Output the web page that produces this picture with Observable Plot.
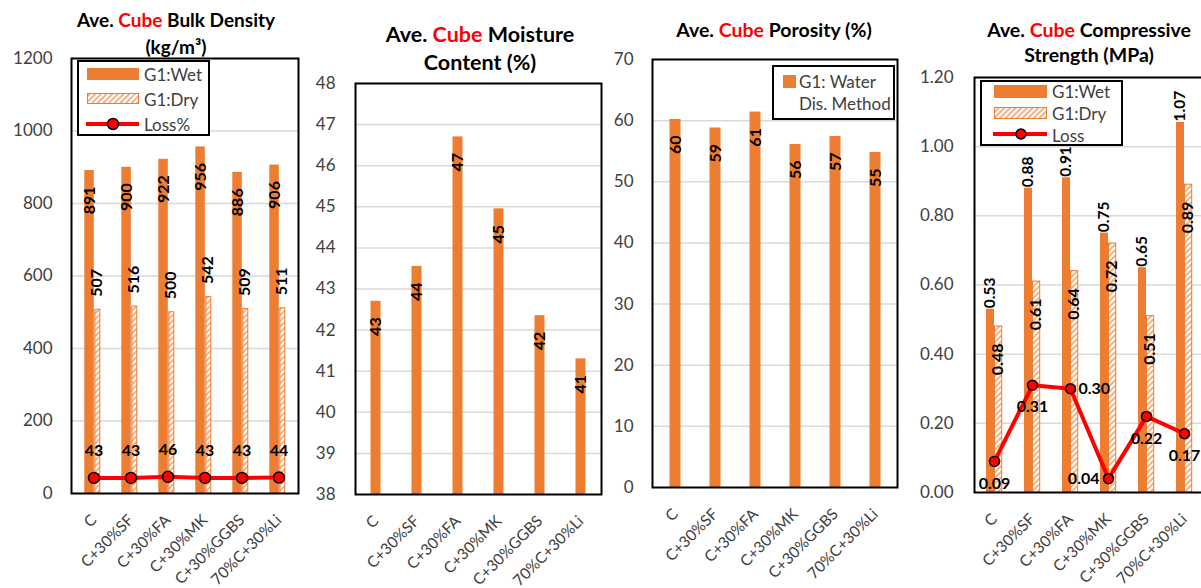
<!DOCTYPE html>
<html>
<head>
<meta charset="utf-8">
<script src="https://cdn.jsdelivr.net/npm/d3@7"></script>
<script src="https://cdn.jsdelivr.net/npm/@observablehq/plot@0.6"></script>
<style>
  body { margin: 0; background: #fff; overflow: hidden; font-family: Lato, "Open Sans", sans-serif; }
  #wrap { position: relative; width: 1201px; height: 588px; overflow: hidden; background: #fff; }
  .panel { position: absolute; top: 0; }
  .panel svg g[aria-label^="y-axis"] text { font-size: 17px; font-family: Lato, sans-serif; fill: #404040; }
  .panel svg g[aria-label^="x-axis"] text { font-size: 15.5px; font-family: Lato, sans-serif; fill: #404040; }
  .title { position: absolute; font-weight: bold; color: #000; text-align: center; white-space: nowrap; transform: translateX(-50%); }
  .title .red { color: #ff0000; }
  .legend { position: absolute; overflow: visible; }
  .legend text { font-family: Lato, sans-serif; font-size: 17px; fill: #404040; dominant-baseline: central; }
</style>
</head>
<body>
<svg width="0" height="0" style="position:absolute">
  <defs>
    <pattern id="hatch" patternUnits="userSpaceOnUse" width="4" height="4" patternTransform="rotate(45)">
      <rect width="4" height="4" fill="#fff"></rect>
      <line x1="1" y1="0" x2="1" y2="4" stroke="#ED7D31" stroke-width="1.2"></line>
    </pattern>
  </defs>
</svg>
<div id="wrap">
  <div class="title" style="left:176px;top:6px;font-size:19px;line-height:27px">Ave. <span class="red">Cube</span> Bulk Density<br>(kg/m³)</div>
  <div class="title" style="left:480px;top:20px;font-size:21.5px;line-height:28px">Ave. <span class="red">Cube</span> Moisture<br>Content (%)</div>
  <div class="title" style="left:774px;top:16px;font-size:19.5px;line-height:28px">Ave. <span class="red">Cube</span> Porosity (%)</div>
  <div class="title" style="left:1089px;top:17px;font-size:19.5px;line-height:25px">Ave. <span class="red">Cube</span> Compressive<br>Strength (MPa)</div>
</div>
<script>
// Mixes tested
const categories = ["C", "C+30%SF", "C+30%FA", "C+30%MK", "C+30%GGBS", "70%C+30%Li"];

// Bulk density (kg/m3)
const densityWet = [891, 900, 922, 956, 886, 906];
const densityDry = [507, 516, 500, 542, 509, 511];
const densityLoss = [43, 43, 46, 43, 43, 44];
const densityTicks = [0, 200, 400, 600, 800, 1000, 1200];

// Moisture content (%)
const moisture = [42.7, 43.55, 46.7, 44.95, 42.35, 41.3];
const moistureTicks = [38, 39, 40, 41, 42, 43, 44, 45, 46, 47, 48];

// Porosity (%), water displacement method
const porosity = [60.2, 58.8, 61.4, 56.1, 57.4, 54.8];
const porosityTicks = [0, 10, 20, 30, 40, 50, 60, 70];

// Compressive strength (MPa)
const strengthWet = [0.53, 0.88, 0.91, 0.75, 0.65, 1.07];
const strengthDry = [0.48, 0.61, 0.64, 0.72, 0.51, 0.89];
const strengthLoss = [0.09, 0.31, 0.30, 0.04, 0.22, 0.17];
const strengthTicks = [0, 0.2, 0.4, 0.6, 0.8, 1.0, 1.2];

const ORANGE = "#ED7D31";
const GRID = "#D9D9D9";
const fmt0 = d3.format(".0f");
const fmt2 = d3.format(".2f");
const svgStyle = "background:transparent;overflow:visible;max-width:none;font-family:Lato,sans-serif;font-size:17px;color:#404040;";
const labelStyle = {fontWeight: "bold", fontSize: 16, fill: "#000", fontFamily: "Lato, sans-serif"};

const wrap = document.getElementById("wrap");
function place(svg, left) {
  const div = document.createElement("div");
  div.className = "panel";
  div.style.left = left + "px";
  div.appendChild(svg);
  wrap.insertBefore(div, wrap.firstChild);
}
const xAxis = {domain: categories, padding: 0, tickRotate: -45, tickSize: 0, tickPadding: 24, label: null};

// Panel 1: bulk density
const densityRows = categories.map((c, i) => ({cat: c, wet: densityWet[i], dry: densityDry[i], loss: densityLoss[i]}));
place(Plot.plot({
  width: 310, height: 588,
  marginLeft: 71, marginRight: 12, marginTop: 58, marginBottom: 95,
  style: svgStyle,
  x: {...xAxis, insetLeft: 2},
  y: {domain: [0, 1200], ticks: densityTicks, tickFormat: fmt0, tickSize: 0, tickPadding: 19, label: null},
  marks: [
    Plot.ruleY(densityTicks.slice(1), {stroke: GRID, strokeWidth: 1.5}),
    Plot.barY(densityRows, {x: "cat", y: "wet", fill: ORANGE, insetLeft: 9.3, insetRight: 18.2}),
    Plot.barY(densityRows, {x: "cat", y: "dry", fill: "url(#hatch)", stroke: ORANGE, strokeWidth: 1, insetLeft: 19.8, insetRight: 12.2}),
    Plot.text(densityRows, {x: "cat", y: "wet", text: d => fmt0(d.wet), rotate: -90, textAnchor: "end", dx: -4.5, dy: 16, ...labelStyle}),
    Plot.text(densityRows, {x: "cat", y: "dry", text: d => fmt0(d.dry), rotate: -90, textAnchor: "start", dx: 2.5, dy: -13, ...labelStyle}),
    Plot.line(densityRows, {x: "cat", y: "loss", stroke: "#FF0000", strokeWidth: 4}),
    Plot.dot(densityRows, {x: "cat", y: "loss", r: 5.5, fill: "#FF0000", stroke: "#000", strokeWidth: 1.5}),
    Plot.text(densityRows, {x: "cat", y: "loss", text: d => fmt0(d.loss), dy: -27, ...labelStyle}),
    Plot.frame({stroke: "#000", strokeWidth: 2})
  ]
}), 0);

// Panel 2: moisture content
const moistureRows = categories.map((c, i) => ({cat: c, v: moisture[i]}));
place(Plot.plot({
  width: 303, height: 588,
  marginLeft: 55, marginRight: 2, marginTop: 83, marginBottom: 94,
  style: svgStyle,
  x: xAxis,
  y: {domain: [38, 48], ticks: moistureTicks, tickSize: 0, tickPadding: 20, label: null},
  marks: [
    Plot.ruleY(moistureTicks.slice(1), {stroke: GRID, strokeWidth: 1.5}),
    Plot.barY(moistureRows, {x: "cat", y1: moistureTicks[0], y2: "v", fill: ORANGE, insetLeft: 15.5, insetRight: 15.5}),
    Plot.text(moistureRows, {x: "cat", y: "v", text: d => fmt0(d.v), rotate: -90, textAnchor: "end", dy: 16, ...labelStyle}),
    Plot.frame({stroke: "#000", strokeWidth: 2})
  ]
}), 300);

// Panel 3: porosity
const porosityRows = categories.map((c, i) => ({cat: c, v: porosity[i]}));
place(Plot.plot({
  width: 300, height: 588,
  marginLeft: 52, marginRight: 3, marginTop: 59, marginBottom: 101,
  style: svgStyle,
  x: xAxis,
  y: {domain: [0, 70], ticks: porosityTicks, tickSize: 0, tickPadding: 19, label: null},
  marks: [
    Plot.ruleY(porosityTicks.slice(1), {stroke: GRID, strokeWidth: 1.5}),
    Plot.barY(porosityRows, {x: "cat", y: "v", fill: ORANGE, insetLeft: 14.5, insetRight: 14.5}),
    Plot.text(porosityRows, {x: "cat", y: "v", text: d => fmt0(d.v), rotate: -90, textAnchor: "end", dy: 16, ...labelStyle}),
    Plot.frame({stroke: "#000", strokeWidth: 2})
  ]
}), 600);

// Panel 4: compressive strength
const strengthRows = categories.map((c, i) => ({cat: c, wet: strengthWet[i], dry: strengthDry[i], loss: strengthLoss[i]}));
const lossRight = new Set(["C+30%FA"]);
const lossLeft = new Set(["C+30%MK"]);
const lossBelow = d => !lossRight.has(d.cat) && !lossLeft.has(d.cat);
place(Plot.plot({
  width: 310, height: 588,
  marginLeft: 74, marginRight: 6, marginTop: 77, marginBottom: 96,
  style: svgStyle,
  x: xAxis,
  y: {domain: [0, 1.2], ticks: strengthTicks, tickFormat: fmt2, tickSize: 0, tickPadding: 21, label: null},
  marks: [
    Plot.ruleY(strengthTicks.slice(1), {stroke: GRID, strokeWidth: 1.5}),
    Plot.barY(strengthRows, {x: "cat", y: "wet", fill: ORANGE, insetLeft: 11, insetRight: 19}),
    Plot.barY(strengthRows, {x: "cat", y: "dry", fill: "url(#hatch)", stroke: ORANGE, strokeWidth: 1, insetLeft: 19.5, insetRight: 11.3}),
    Plot.text(strengthRows, {x: "cat", y: "wet", text: d => fmt2(d.wet), rotate: -90, textAnchor: "start", dx: -4, dy: -1, ...labelStyle, fontSize: 15.5}),
    Plot.text(strengthRows, {x: "cat", y: "dry", text: d => fmt2(d.dry), rotate: -90, textAnchor: "end", dx: 3, dy: 17, ...labelStyle}),
    Plot.line(strengthRows, {x: "cat", y: "loss", stroke: "#FF0000", strokeWidth: 4}),
    Plot.dot(strengthRows, {x: "cat", y: "loss", r: 5, fill: "#FF0000", stroke: "#000", strokeWidth: 1.5}),
    Plot.text(strengthRows, {filter: lossBelow, x: "cat", y: "loss", text: d => fmt2(d.loss), dy: 22, ...labelStyle}),
    Plot.text(strengthRows, {filter: d => lossRight.has(d.cat), x: "cat", y: "loss", text: d => fmt2(d.loss), textAnchor: "start", dx: 8, ...labelStyle}),
    Plot.text(strengthRows, {filter: d => lossLeft.has(d.cat), x: "cat", y: "loss", text: d => fmt2(d.loss), textAnchor: "end", dx: -9, ...labelStyle}),
    Plot.frame({stroke: "#000", strokeWidth: 2})
  ]
}), 900);

// Legends
function legend(left, top, w, h, inner) {
  const ns = "http://www.w3.org/2000/svg";
  const svg = document.createElementNS(ns, "svg");
  svg.setAttribute("class", "legend");
  svg.setAttribute("width", w);
  svg.setAttribute("height", h);
  svg.style.left = left + "px";
  svg.style.top = top + "px";
  svg.innerHTML = `<rect x="1" y="1" width="${w - 2}" height="${h - 2}" fill="#fff" stroke="#000" stroke-width="2"></rect>` + inner;
  wrap.appendChild(svg);
}
legend(77, 60, 133, 76,
  `<rect x="10" y="8" width="52" height="12" fill="${ORANGE}"></rect>
   <text x="67" y="14">G1:Wet</text>
   <rect x="10.5" y="33.5" width="51" height="10" fill="url(#hatch)" stroke="${ORANGE}" stroke-width="1"></rect>
   <text x="67" y="39">G1:Dry</text>
   <line x1="9" x2="62" y1="64" y2="64" stroke="#FF0000" stroke-width="4"></line>
   <circle cx="36" cy="64" r="5.5" fill="#FF0000" stroke="#000" stroke-width="1.5"></circle>
   <text x="67" y="64">Loss%</text>`);
legend(772, 65, 123, 55,
  `<rect x="11" y="10" width="13" height="13" fill="${ORANGE}"></rect>
   <text x="27" y="16">G1: Water</text>
   <text x="27" y="38.5">Dis. Method</text>`);
legend(980, 80, 143, 66,
  `<rect x="14" y="5" width="53" height="13" fill="${ORANGE}"></rect>
   <text x="72" y="11.5">G1:Wet</text>
   <rect x="14.5" y="27.5" width="52" height="11" fill="url(#hatch)" stroke="${ORANGE}" stroke-width="1"></rect>
   <text x="72" y="33">G1:Dry</text>
   <line x1="13" x2="67" y1="54" y2="54" stroke="#FF0000" stroke-width="4"></line>
   <circle cx="41" cy="54" r="5" fill="#FF0000" stroke="#000" stroke-width="1.5"></circle>
   <text x="72" y="55">Loss</text>`);
</script>
</body>
</html>
